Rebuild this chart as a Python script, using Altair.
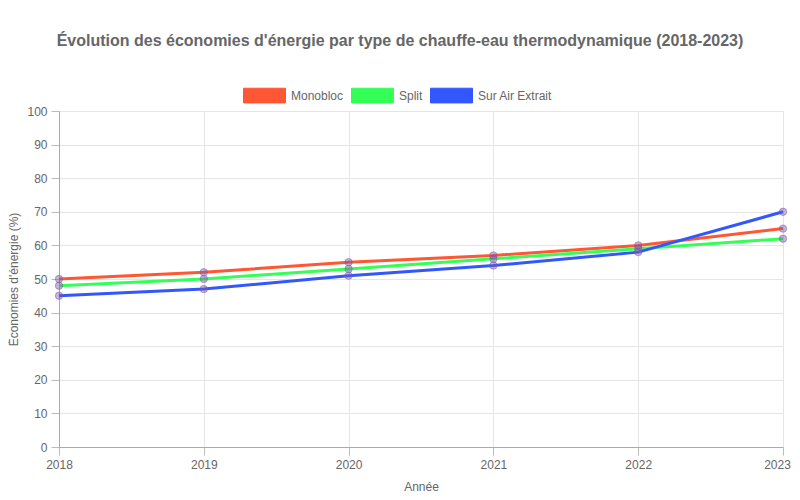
import pandas as pd
import altair as alt

# Chart values
years = [2018, 2019, 2020, 2021, 2022, 2023]
monobloc = [50, 52, 55, 57, 60, 65]
split = [48, 50, 53, 56, 59, 62]
air_extrait = [45, 47, 51, 54, 58, 70]

series_names = ['Monobloc', 'Split', 'Sur Air Extrait']
series_colors = ['#FF5733', '#33FF57', '#3357FF']

rows = []
for name, values in zip(series_names, [monobloc, split, air_extrait]):
    for year, value in zip(years, values):
        rows.append({'annee': year, 'valeur': value, 'type': name})
df = pd.DataFrame(rows)

grey = '#666666'
font = 'Liberation Sans'

# nudge the last year label left so it stays inside the page
last_label_offset = {'condition': {'test': 'datum.value == 2023', 'value': -6},
                     'value': 0}

x = alt.X('annee:Q', title='Année',
          scale=alt.Scale(domain=[2018, 2023], nice=False, zero=False),
          axis=alt.Axis(format='d', values=years, labelPadding=4,
                        labelFlush=False, labelOffset=last_label_offset,
                        titlePadding=11))
y = alt.Y('valeur:Q', title="Économies d'énergie (%)",
          scale=alt.Scale(domain=[0, 100], nice=False),
          axis=alt.Axis(values=list(range(0, 101, 10)), labelPadding=4,
                        titleX=-46, titleY=168, titleAngle=-90,
                        titleBaseline='middle', titleAlign='center'))
color = alt.Color('type:N', sort=series_names,
                  scale=alt.Scale(domain=series_names, range=series_colors),
                  legend=alt.Legend(
                      title=None, orient='none', direction='horizontal',
                      legendX=184, legendY=-37,
                      symbolType='M-1,-0.35L1,-0.35L1,0.35L-1,0.35Z',
                      symbolSize=1764, symbolStrokeWidth=1,
                      symbolStrokeColor='#dddddd', symbolOpacity=1,
                      labelFontSize=12, labelColor=grey, labelFont=font,
                      columnPadding=5, symbolOffset=0, labelOffset=5))

lines = alt.Chart(df).mark_line(strokeWidth=3).encode(x=x, y=y, color=color)

# invisible filled squares only so the legend swatches are filled
swatches = alt.Chart(df).mark_square(filled=True, size=0).encode(
    x=x, y=y, color=color)

points = alt.Chart(df).mark_point(
    filled=True, size=55, fill='#7a5aa8', fillOpacity=0.45,
    stroke='#7a5aa8', strokeOpacity=0.5, strokeWidth=1
).encode(x=x, y=y, detail='type:N')

chart = alt.layer(lines, swatches, points).properties(
    width=724,
    height=336,
    autosize=alt.AutoSizeParams(type='none'),
    padding={'left': 51, 'top': 103, 'right': 9, 'bottom': 45},
    title=alt.TitleParams(
        "Évolution des économies d'énergie par type de chauffe-eau thermodynamique (2018-2023)",
        fontSize=16, font=font, fontWeight='bold', color=grey,
        anchor='middle', dx=-21, offset=25)
).configure_view(
    stroke=None
).configure_axis(
    gridColor='#e5e5e5', domainColor='#aaaaaa', tickColor='#bbbbbb',
    tickSize=8, labelColor=grey, titleColor=grey, labelFont=font,
    titleFont=font, labelFontSize=12, titleFontSize=12,
    titleFontWeight='normal'
)

chart.save("out.html", embed_options={"renderer": "svg", "actions": False})
